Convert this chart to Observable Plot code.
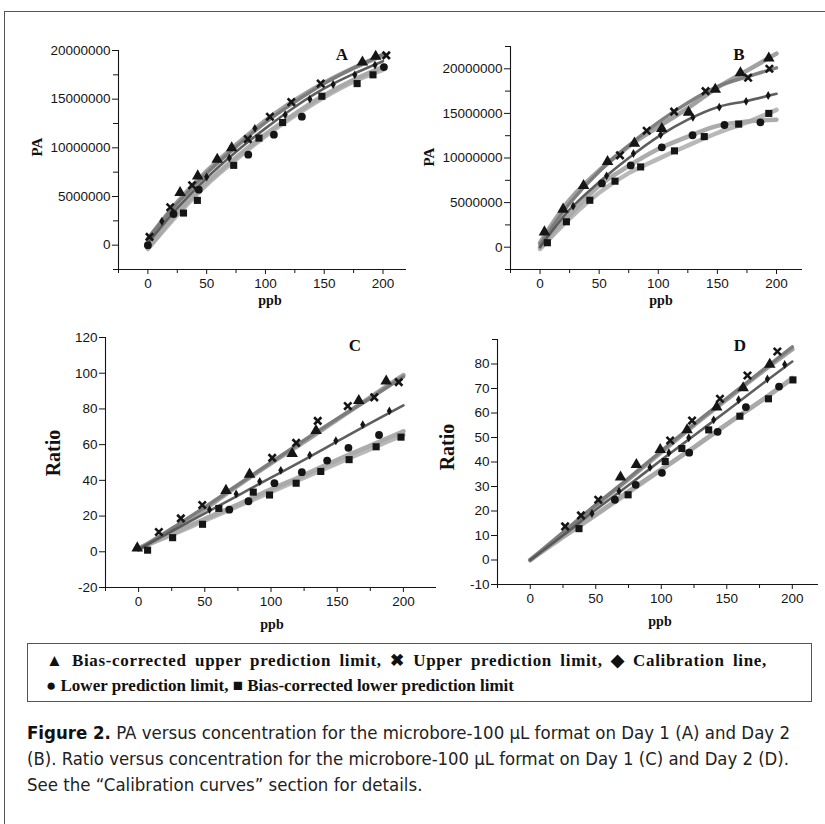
<!DOCTYPE html>
<html><head><meta charset="utf-8">
<script src="https://cdn.jsdelivr.net/npm/d3@7"></script>
<script src="https://cdn.jsdelivr.net/npm/@observablehq/plot@0.6"></script>
<style>
body{margin:0;background:#fff;}
#fig{position:relative;width:825px;height:824px;overflow:hidden;background:#fff;}
#frame{position:absolute;left:4px;top:11px;width:900px;height:900px;border-left:1.3px solid #555;border-top:1.3px solid #555;}
.panel{position:absolute;}
.lbl{position:absolute;font-family:"Liberation Serif","Times New Roman",serif;font-weight:bold;color:#111;white-space:nowrap;transform:translate(-50%,-50%);line-height:1;}
.rot{transform:translate(-50%,-50%) rotate(-90deg);}
#legend{position:absolute;left:27px;top:643px;width:785px;height:59px;border:1.5px solid #555;box-sizing:border-box;font-family:"Liberation Serif","Times New Roman",serif;font-weight:bold;font-size:17px;color:#111;}
#legend div{position:absolute;left:18px;white-space:nowrap;line-height:1;}
#caption div{position:absolute;left:27px;white-space:nowrap;font-family:"Liberation Sans Narrow","DejaVu Sans Condensed","Liberation Sans",sans-serif;font-size:17.5px;color:#222;line-height:1;transform-origin:0 50%;}
</style>
</head><body>
<div id="fig">
  <div id="frame"></div>
</div>
<script>
// ---------- DATA ----------
const seriesNames = ["Bias-corrected upper prediction limit","Upper prediction limit","Calibration line","Lower prediction limit","Bias-corrected lower prediction limit"];
const fitX = [0, 25, 50, 75, 100, 125, 150, 175, 200];

// Panel A (PA, Day 1)  points: [ppb, PA]
const A_tri  = [[27.4,5.4e6],[42.4,7.1e6],[59,8.8e6],[71.3,10.0e6],[182.5,18.8e6],[193.8,19.4e6]];
const A_x    = [[1.4,0.85e6],[19,3.9e6],[37.6,6.15e6],[85,10.9e6],[103.8,13.2e6],[122,14.7e6],[147,16.6e6],[202.8,19.5e6]];
const A_cal  = [[11.9,2.46e6],[50,7.0e6],[69.3,8.95e6],[91,12.0e6],[116.8,13.4e6],[137.8,15.0e6],[157.6,16.5e6],[176,17.5e6],[193.2,18.5e6]];
const A_circ = [[0,0],[21.8,3.2e6],[43.3,5.7e6],[85.4,9.3e6],[107.2,11.35e6],[131,13.2e6],[200.8,18.3e6]];
const A_sq   = [[30.3,3.3e6],[42.1,4.6e6],[73,8.2e6],[94.5,11.0e6],[114.6,12.6e6],[148,15.3e6],[178,16.6e6],[191.5,17.5e6]];
const A_fit_tri  = [0.6e6,4.4e6,7.6e6,10.3e6,12.8e6,14.9e6,16.7e6,18.2e6,19.5e6];
const A_fit_x    = [0.7e6,4.3e6,7.4e6,10.1e6,12.6e6,14.7e6,16.6e6,18.2e6,19.6e6];
const A_fit_cal  = [0.2e6,3.8e6,6.9e6,9.6e6,12.0e6,14.2e6,16.1e6,17.6e6,18.9e6];
const A_fit_circ = [-0.3e6,3.3e6,6.4e6,9.0e6,11.4e6,13.5e6,15.4e6,17.0e6,18.3e6];
const A_fit_sq   = [-0.4e6,3.1e6,6.2e6,8.8e6,11.2e6,13.3e6,15.2e6,16.8e6,18.0e6];

// Panel B (PA, Day 2)
const B_tri  = [[3.7,1.7e6],[19.5,4.25e6],[36.8,6.9e6],[57.1,9.6e6],[79.8,11.65e6],[103,13.3e6],[125.6,15.1e6],[148.2,17.7e6],[169.5,19.55e6],[193.5,21.2e6]];
const B_x    = [[67.6,10.3e6],[90.2,13.05e6],[113.4,15.2e6],[140,17.5e6],[176,19.0e6],[194,20.0e6]];
const B_cal  = [[28,4.6e6],[56.3,8.0e6],[79,10.5e6],[102,12.6e6],[129.3,14.55e6],[151.6,15.7e6],[174.3,16.35e6],[193,17.0e6]];
const B_circ = [[52.3,7.15e6],[76.7,9.17e6],[103,11.2e6],[129,12.55e6],[156,13.7e6],[186.4,14.0e6]];
const B_sq   = [[6.2,0.5e6],[22.3,2.85e6],[42.1,5.26e6],[63.4,7.4e6],[85.1,9.0e6],[113.7,10.8e6],[138.9,12.4e6],[168,13.8e6],[193.5,15.0e6]];
const B_fit_tri  = [0.5e6,5.3e6,8.6e6,11.3e6,13.5e6,15.6e6,17.9e6,19.8e6,21.7e6];
const B_fit_x    = [0.3e6,4.9e6,8.5e6,11.4e6,14.0e6,16.2e6,18.0e6,19.1e6,20.1e6];
const B_fit_cal  = [0,4.2e6,7.3e6,10.0e6,12.4e6,14.3e6,15.7e6,16.4e6,17.2e6];
const B_fit_circ = [0,3.6e6,6.9e6,9.1e6,11.0e6,12.4e6,13.6e6,14.1e6,14.3e6];
const B_fit_sq   = [-0.2e6,3.2e6,6.1e6,8.3e6,9.9e6,11.4e6,12.8e6,14.0e6,15.4e6];

// Panel C (Ratio, Day 1)
const C_tri  = [[-1,2.1],[66,34.3],[83.8,43.4],[116,55],[134,67.8],[166.3,84.6],[187,95.5]];
const C_x    = [[15.3,11.1],[31.9,18.7],[48.1,26.2],[100.9,52.6],[119,61],[135.3,73.3],[158,81.6],[178,86.5],[196.5,95]];
const C_cal  = [[53.6,23.6],[73.7,32.4],[91.5,39.4],[107.4,45.6],[129.3,54.1],[149,62.2],[169.3,71.2],[189.4,78.9]];
const C_circ = [[68.5,23.6],[83,28.3],[102.6,38.4],[123.3,44.6],[142.4,51.1],[158.5,58.2],[181.6,65.4]];
const C_sq   = [[6.8,0.9],[25.7,7.9],[48.3,15.4],[60.6,24.3],[86.6,33.4],[98.9,31.8],[119,38.4],[137.6,45],[159,51.6],[179.4,58.8],[198.2,64.2]];
const C_fit_tri  = [1.5,12.5,24,37,49.5,61.5,74,86.5,99];
const C_fit_x    = [1,13,25,37.5,50,62.5,74.5,86,98];
const C_fit_cal  = [1.5,11.5,21.5,31.5,41.5,51.5,61.8,72,82];
const C_fit_circ = [2,10,18.5,26.5,35,43,51.5,59.5,67.5];
const C_fit_sq   = [2,9.5,17.5,25.5,33.5,41.5,49.5,57.5,65.5];

// Panel D (Ratio, Day 2)
const D_tri  = [[68.9,33.8],[81,38.9],[99.2,45.0],[119.7,53.1],[142.3,62.4],[162.5,70.2],[182.8,79.8]];
const D_x    = [[26.6,13.7],[38.7,18.2],[51.9,24.6],[106.8,48.8],[123.5,56.9],[144.8,65.8],[165.8,75.3],[188.6,85.1]];
const D_cal  = [[47.1,19.0],[67.8,28.1],[91.4,37.8],[105.8,43.8],[121,49.9],[140,57.2],[159,65.4],[181,73.9],[194.2,79.8]];
const D_circ = [[64.6,24.6],[80.5,30.7],[100.5,35.6],[121.3,43.8],[143,52.3],[164.6,62.4],[189.9,70.8]];
const D_sq   = [[37.2,12.8],[74.7,26.6],[103,40.2],[115.7,45.5],[136.2,53.1],[160,58.7],[181.8,65.8],[200.5,73.5]];
const D_fit_tri  = [0,11,22.2,33,44,55,65.5,76,86];
const D_fit_x    = [0,11.2,22.5,33.3,44.5,55.5,66,76.5,87];
const D_fit_cal  = [0,10,20.5,30.5,40.8,50.8,60.8,71,81];
const D_fit_circ = [0,9.5,18.5,28,37,46,55.5,64.5,74];
const D_fit_sq   = [0,9.3,18.3,27.5,36.8,46,55.3,64.5,74.3];

// tick values
const xMajor = [0, 50, 100, 150, 200];
const xMinor = [-25, 25, 75, 125, 175];
const paMajor = [0, 5e6, 10e6, 15e6, 20e6];
const A_yMinor = [-2.5e6, 2.5e6, 7.5e6, 12.5e6, 17.5e6];
const B_yMinor = [-2.5e6, 2.5e6, 7.5e6, 12.5e6, 17.5e6, 22.5e6];
const C_yMajor = [-20, 0, 20, 40, 60, 80, 100, 120];
const D_yMajor = [-10, 0, 10, 20, 30, 40, 50, 60, 70, 80];
const D_yMinor = [90];

// ---------- STYLE ----------
const lineStyle = [
  {stroke:"#9c9c9c", width:4.5},  // bias-corrected upper
  {stroke:"#7a7a7a", width:3.5},  // upper
  {stroke:"#555555", width:2.6},  // calibration
  {stroke:"#a8a8a8", width:4.5},  // lower
  {stroke:"#b4b4b4", width:4.5}   // bias-corrected lower
];
const ink = "#151515";
const plain = d => String(d);

function panel(opt) {
  const pts = opt.points, fits = opt.fits;
  const marks = [];
  marks.push(Plot.ruleX([opt.xDomain[0]], {y1: opt.yDomain[0], y2: opt.yDomain[1], stroke: ink, strokeWidth: 1.1}));
  marks.push(Plot.ruleY([opt.yDomain[0]], {x1: opt.xDomain[0], x2: opt.xDomain[1], stroke: ink, strokeWidth: 1.1}));
  marks.push(Plot.axisX({ticks: xMajor, tickSize: 5, tickPadding: 4, label: null, tickFormat: plain, stroke: ink, fill: ink}));
  marks.push(Plot.axisX({ticks: xMinor, tickSize: 4, tickFormat: () => "", label: null, stroke: ink}));
  marks.push(Plot.axisY({ticks: opt.yMajor, tickSize: 6, tickPadding: 2, label: null, tickFormat: plain, stroke: ink, fill: ink}));
  if (opt.yMinor) marks.push(Plot.axisY({ticks: opt.yMinor, tickSize: 5, tickFormat: () => "", label: null, stroke: ink}));
  const order = [4, 3, 0, 1, 2];
  for (const i of order) {
    const data = fits[i].map((y, k) => ({x: fitX[k], y, s: seriesNames[i]}));
    marks.push(Plot.line(data, {x: "x", y: "y", stroke: lineStyle[i].stroke, strokeWidth: lineStyle[i].width, curve: "catmull-rom", strokeLinecap: "round", strokeOpacity: 0.95}));
  }
  marks.push(Plot.dot(pts[0], {x: d => d[0], y: d => d[1], symbol: "triangle", r: 4.3, fill: ink, stroke: "none"}));
  marks.push(Plot.dot(pts[1], {x: d => d[0], y: d => d[1], symbol: "times", r: 3.4, stroke: ink, strokeWidth: 2.6, fill: "none"}));
  marks.push(Plot.dot(pts[2], {x: d => d[0], y: d => d[1], symbol: "diamond", r: 2.7, fill: ink, stroke: "none"}));
  marks.push(Plot.dot(pts[3], {x: d => d[0], y: d => d[1], symbol: "circle", r: 3.9, fill: ink, stroke: "none"}));
  marks.push(Plot.dot(pts[4], {x: d => d[0], y: d => d[1], symbol: "square", r: 4.0, fill: ink, stroke: "none"}));

  const svg = Plot.plot({
    width: opt.width, height: opt.height,
    marginLeft: opt.m[0], marginRight: opt.m[1], marginTop: opt.m[2], marginBottom: opt.m[3],
    x: {domain: opt.xDomain, label: null},
    y: {domain: opt.yDomain, label: null},
    style: {fontFamily: "'Liberation Sans', Arial, sans-serif", fontSize: "13.5px", color: ink, background: "transparent", overflow: "visible"},
    marks
  });
  svg.classList.add("panel");
  svg.style.left = opt.left + "px";
  svg.style.top = opt.top + "px";
  return svg;
}

const fig = document.getElementById("fig");

fig.appendChild(panel({
  left: 20, top: 30, width: 400, height: 285, m: [98, 14, 20, 46],
  xDomain: [-25, 220], yDomain: [-2.5e6, 20e6], yMajor: paMajor, yMinor: A_yMinor,
  points: [A_tri, A_x, A_cal, A_circ, A_sq],
  fits: [A_fit_tri, A_fit_x, A_fit_cal, A_fit_circ, A_fit_sq]
}));
fig.appendChild(panel({
  left: 420, top: 30, width: 400, height: 285, m: [90, 18, 16, 46],
  xDomain: [-25, 222], yDomain: [-2.5e6, 22.5e6], yMajor: paMajor, yMinor: B_yMinor,
  points: [B_tri, B_x, B_cal, B_circ, B_sq],
  fits: [B_fit_tri, B_fit_x, B_fit_cal, B_fit_circ, B_fit_sq]
}));
fig.appendChild(panel({
  left: 20, top: 320, width: 420, height: 320, m: [85, 4, 17, 53],
  xDomain: [-25, 225], yDomain: [-20, 120], yMajor: C_yMajor, yMinor: null,
  points: [C_tri, C_x, C_cal, C_circ, C_sq],
  fits: [C_fit_tri, C_fit_x, C_fit_cal, C_fit_circ, C_fit_sq]
}));
fig.appendChild(panel({
  left: 420, top: 320, width: 405, height: 320, m: [77, 7, 19, 56],
  xDomain: [-25, 220], yDomain: [-10, 90], yMajor: D_yMajor, yMinor: D_yMinor,
  points: [D_tri, D_x, D_cal, D_circ, D_sq],
  fits: [D_fit_tri, D_fit_x, D_fit_cal, D_fit_circ, D_fit_sq]
}));

// ---------- LABELS ----------
const labels = [
  {t: "A", x: 342, y: 54, s: 17},
  {t: "B", x: 739, y: 54, s: 17},
  {t: "C", x: 355, y: 345, s: 17},
  {t: "D", x: 740, y: 345, s: 17},
  {t: "ppb", x: 270, y: 301, s: 14},
  {t: "ppb", x: 661, y: 301, s: 14},
  {t: "ppb", x: 272, y: 625, s: 14},
  {t: "ppb", x: 660, y: 622, s: 14},
  {t: "PA", x: 37, y: 147, s: 15, rot: true},
  {t: "PA", x: 429, y: 157, s: 15, rot: true},
  {t: "Ratio", x: 53, y: 453, s: 20, rot: true},
  {t: "Ratio", x: 447, y: 447, s: 20, rot: true}
];
for (const l of labels) {
  const d = document.createElement("div");
  d.className = "lbl" + (l.rot ? " rot" : "");
  d.textContent = l.t;
  d.style.left = l.x + "px"; d.style.top = l.y + "px"; d.style.fontSize = l.s + "px";
  fig.appendChild(d);
}

// legend
const legend = document.createElement("div");
legend.id = "legend";
const legendLines = [
  ["\u25B2 " + seriesNames[0] + ", \u2716 " + seriesNames[1] + ", \u25C6 " + seriesNames[2] + ",", 721],
  ["\u25CF " + seriesNames[3] + ", \u25A0 " + seriesNames[4], 0]
];
fig.appendChild(legend);
legendLines.forEach((t, i) => {
  const d = document.createElement("div");
  d.textContent = t[0];
  d.style.top = (8 + i * 24.5) + "px";
  legend.appendChild(d);
  if (t[1]) {
    const w = d.getBoundingClientRect().width;
    const n = t[0].length;
    const extra = Math.max(0, t[1] - w);
    const gaps = (t[0].match(/ /g) || []).length;
    // share the stretch between letter and word spacing (justified line)
    d.style.letterSpacing = (extra * 0.6 / n) + "px";
    d.style.wordSpacing = (extra * 0.4 / gaps) + "px";
  }
});

// caption
const cap = document.createElement("div");
cap.id = "caption";
const capLines = [
  ["Figure 2.", " PA versus concentration for the microbore-100 \u00B5L format on Day 1 (A) and Day 2", 763],
  ["", "(B). Ratio versus concentration for the microbore-100 \u00B5L format on Day 1 (C) and Day 2 (D).", 762],
  ["", "See the \u201CCalibration curves\u201D section for details.", 0]
];
fig.appendChild(cap);
const capDivs = capLines.map((c, i) => {
  const d = document.createElement("div");
  if (c[0]) { const b = document.createElement("b"); b.textContent = c[0]; b.style.color = "#111"; d.appendChild(b); }
  d.appendChild(document.createTextNode(c[1]));
  d.style.top = (725 + i * 26) + "px";
  cap.appendChild(d);
  return d;
});
let sx = 1;
capDivs.forEach((d, i) => {
  const w = d.getBoundingClientRect().width;
  if (capLines[i][2]) { const s = capLines[i][2] / w; if (i === 0) sx = s; d.style.transform = "scaleX(" + s + ")"; }
  else d.style.transform = "scaleX(" + sx + ")";
});
</script>
</body></html>
